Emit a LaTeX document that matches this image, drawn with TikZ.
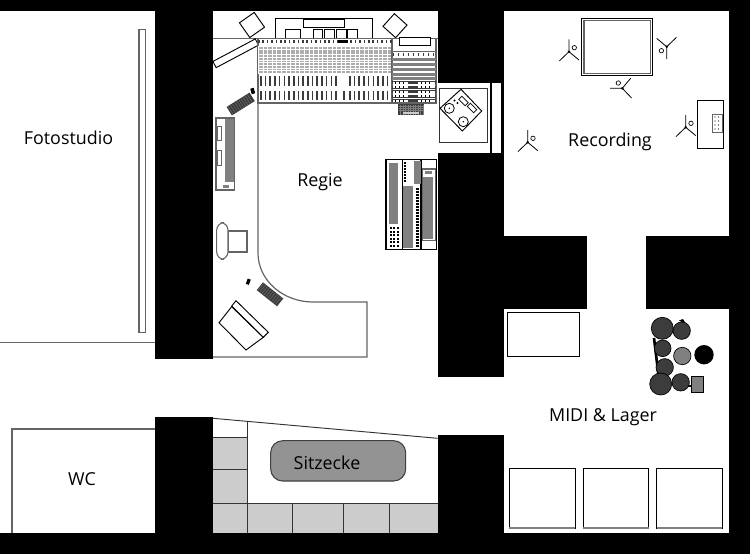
\documentclass[tikz,border=0pt]{standalone}
\usepackage{fontspec}
\setmainfont{Open Sans}
\definecolor{mdark}{RGB}{60,60,60}
\definecolor{mgray}{RGB}{128,128,128}
\definecolor{mtile}{RGB}{204,204,204}
\definecolor{mline}{RGB}{100,100,100}
\tikzset{wall/.style={fill=black},
    furn/.style={draw=black, line width=.7pt, fill=white},
    outline/.style={draw=mline, line width=.9pt},
    label/.style={font=\fontsize{13.4pt}{15pt}\selectfont, text=black, inner sep=0pt},
    drum/.style={draw=black, fill=mdark, line width=.5pt},
}
\newcommand{\micstand}[3]{%
  \begin{scope}[shift={(#1,#2)},rotate=#3]
    \draw[black, line width=.6pt] (0,0)--(0,-12.3) (0,0)--(-9.7,9.3) (0,0)--(10,8.3);
    \fill[black] (0,0) circle (1.4);
    \draw[black, line width=.5pt] (5.3,-4) circle (2.2);
  \end{scope}}
\begin{document}
\begin{tikzpicture}[x=.75pt, y=-.75pt]
\useasboundingbox (0,0) rectangle (750,554);
\fill[white] (0,0) rectangle (750,554);

% walls
\fill[wall] (0,0) rectangle (750,10.7);
\fill[wall] (0,533.3) rectangle (750,554);
\fill[wall] (729,0) rectangle (750,554);
\fill[wall] (155,0) rectangle (213,359);
\fill[wall] (155,417) rectangle (213,533.3);
\fill[wall] (438,0) rectangle (503.5,83.3);
\fill[wall] (438,153) rectangle (503.5,377);
\fill[wall] (438,435) rectangle (503.5,533.3);
\fill[wall] (503.5,236) rectangle (586.5,308.5);
\fill[wall] (646,236) rectangle (729,308.5);
\fill[wall] (490,83.3) rectangle (503.5,153);
\fill[white] (492,83.3) rectangle (501,153);

% Fotostudio and WC
\draw[outline] (0,342.7) -- (155,342.7);
\draw[outline, fill=white] (139,29.3) rectangle (145.3,332.7);
\draw[outline] (12,533.3) -- (12,429) -- (155,429);

% Regie desk outline
\draw[outline] (213,38.3) -- (438,38.3);
\draw[outline] (258,103) -- (258,253) arc (180:90:55 and 49) -- (367,302) -- (367,357) -- (213,357);

% outboard at the top
\draw[furn] (275,18) rectangle (372.7,38.3);
\draw[furn] (303,19) rectangle (344,27);
\foreach \xa/\xb in {285/300.7, 313/322, 324/334, 336/346, 347/357}
  \draw[furn] (\xa,29) rectangle (\xb,38.3);
\draw[furn, shift={(252,25)}, rotate=-55] (-9,-9) rectangle (9,9);
\draw[furn, shift={(395,25.7)}, rotate=-42] (-8.5,-8.5) rectangle (8.5,8.5);
\draw[furn, shift={(235.7,53.3)}, rotate=28] (-24,-3.5) rectangle (24,3.5);

% mixing desk
\draw[mline, line width=1.2pt, fill=white] (258,38.3) rectangle (391.7,102.7);
\foreach \y in {47,49.7,...,72}
  \fill[mtile!85!black] (258.5,\y) rectangle (391,\y+1.8);
\foreach \x in {258,262.6,...,391}
  \fill[white] (\x,46) rectangle (\x+.6,74);
\foreach \x in {258,262.4,...,391}
  \fill[mdark] (\x,39.5) rectangle (\x+1.6,43);
\fill[black] (338,40) rectangle (348,43);
\foreach \x in {260,264.7,...,337}
  {\fill[mdark] (\x,76) rectangle (\x+1.6,86);
   \fill[mdark] (\x,91) rectangle (\x+1.6,100);}
\foreach \x in {349,353.7,...,388}
  {\fill[mdark] (\x,76) rectangle (\x+1.6,86);
   \fill[mdark] (\x,91) rectangle (\x+1.6,100);}
\fill[mdark] (343,91) rectangle (344.6,100);

% side rack of the desk
\draw[mline, line width=1pt] (391.7,38.3) -- (436,38.3) -- (436,103) -- (391.7,103);
\draw[furn] (399,37) rectangle (430,45);
\draw[mline] (391.7,51.6) -- (436,51.6);
\foreach \x in {393,398,...,433}
  \fill[mdark] (\x,53) rectangle (\x+1,55.5);
\foreach \y in {58,63,68,73,77}
  \fill[mgray] (392,\y) rectangle (436,\y+3);
\foreach \y in {81,85.5,90,94.5,99}
  {\fill[mdark] (392,\y) rectangle (436,\y+3.4);
   \fill[white] (393,\y+.6) rectangle (408,\y+2.8);
   \fill[white] (418,\y+.6) rectangle (435,\y+2.8);
   \foreach \x in {395,399,403,421,425,429}
     \fill[black] (\x,\y+.8) rectangle (\x+1,\y+2.6);}
\fill[mdark] (398,104) rectangle (424,115);
\foreach \x in {400,402.5,...,423}
  \fill[mgray] (\x,104.5) rectangle (\x+.4,114.5);
\foreach \y in {106,108,110}
  \fill[mgray] (398.5,\y) rectangle (423.5,\y+.4);
\fill[mtile] (403,112) rectangle (419,113.5);

% keyboards and mice
\fill[mdark, shift={(240.7,104)}, rotate=32] (-13.5,-5) rectangle (13.5,5);
\foreach \x in {-12,-9.5,...,12}
  \fill[mgray, shift={(240.7,104)}, rotate=32] (\x,-4.5) rectangle (\x+.3,4.5);
\fill[black, shift={(252.7,91)}, rotate=15] (-1.8,-2.8) rectangle (1.8,2.8);
\fill[mdark, shift={(270,294.3)}, rotate=-38.6] (-13,-5) rectangle (13,5);
\foreach \x in {-12,-9.5,...,12}
  \fill[mgray, shift={(270,294.3)}, rotate=-38.6] (\x,-4.5) rectangle (\x+.3,4.5);
\fill[black, shift={(248.3,281.7)}, rotate=-20] (-1.6,-2.8) rectangle (1.6,2.8);

% left rack, chair, armchair
\draw[mline, line width=.9pt, fill=white] (216,118) rectangle (234.7,190);
\fill[mgray] (225,119) rectangle (234,181.7);
\draw[mline, fill=white] (217.3,126) rectangle (221.3,140.7);
\draw[mline, fill=white] (217.3,150.7) rectangle (221.3,165);
\fill[mgray] (222.7,185) rectangle (229.3,188);
\draw[mline, line width=1.4pt, fill=white] (228,230.7) rectangle (246.7,251.7);
\draw[mline, line width=.8pt, rounded corners=5.5, fill=white] (216.7,222.7) rectangle (228,259.3);
\draw[furn] (231.7,306.7) -- (263.3,337.3) -- (246,350) -- (219,322.7) -- cycle;
\draw[furn] (236,300.7) -- (268.3,332.3) -- (263.3,337.3) -- (231.7,306) -- cycle;

% rack on the right of Regie
\draw[black, line width=1pt, fill=white] (386,159.3) rectangle (436.7,249.3);
\draw[black, line width=.8pt] (402.7,159.3) -- (402.7,249.3) (421,159.3) -- (421,249.3);
\fill[mgray] (388.7,162.7) rectangle (398.3,224);
\foreach \x in {389.5,393,396.5}
  \foreach \y in {227,230.5,...,246}
    \fill[black] (\x,\y) rectangle (\x+2.2,\y+2.2);
\fill[mgray] (403.3,186) rectangle (413.3,247.7);
\fill[mgray] (414,160.7) rectangle (420.7,184);
\foreach \y in {161.7,164.7,...,182}
  \fill[black] (404,\y) rectangle (406.2,\y+1.8);
\foreach \y in {188.3,191.3,...,246}
  \fill[black] (416,\y) rectangle (418.6,\y+1.8);
\draw[mline, line width=.8pt] (422.3,169) rectangle (435.7,240.7);
\fill[mgray] (425,171) rectangle (431.7,174.3);
\fill[mgray] (423.3,177.3) rectangle (432.7,239.3);

% tape machine
\draw[black!80, line width=.9pt] (439.3,88.3) rectangle (487.7,142.3);
\draw[furn] (461,89.3) -- (481.7,111) -- (462.3,131) -- (440,108.3) -- cycle;
\draw[black, line width=.6pt] (449.3,108.3) circle (5);
\draw[black, line width=.6pt] (463.3,121.7) circle (5);
\fill[black] (449.3,108.3) circle (.8) (463.3,121.7) circle (.8);
\draw[black, line width=.6pt, shift={(463.5,101)}, rotate=-45] (-4.5,-2.2) rectangle (4.5,2.2);
\draw[black, line width=.6pt, shift={(472,108)}, rotate=-45] (-4.5,-2.2) rectangle (4.5,2.2);
\fill[black] (454.5,100.5) circle (1.1) (457.5,103) circle (1.1);

% Recording
\draw[black, line width=.9pt] (581.7,18.3) rectangle (652.7,75.7);
\draw[mline, line width=.9pt] (584,20.5) rectangle (650.5,73.5);
\micstand{569}{51.7}{0}
\micstand{666.7}{46.7}{180}
\micstand{622.3}{88.3}{90}
\micstand{685.7}{127.3}{0}
\micstand{527.7}{142.3}{0}
\draw[black, line width=1.1pt, fill=white] (697.3,100.7) rectangle (723.3,148.3);
\draw[mline, fill=white] (712.7,114) rectangle (722.3,132.3);
\foreach \x in {715,718.5}
  \foreach \y in {117,121,125,129}
    \fill[black] (\x,\y) circle (.7);

% MIDI und Lager
\draw[furn] (507.3,312.3) rectangle (579.3,356);
\foreach \xa/\xb in {509.3/575, 583/648.7, 656.7/722.3}
  {\draw[furn] (\xa,468.3) rectangle (\xb,528);
   \draw[mgray, line width=1pt] (\xa,528) -- (\xb,528);}
\draw[black, line width=2pt] (654,338) -- (658.5,375);
\fill[black] (679,320.5) -- (683,319) -- (686,324) -- cycle;
\draw[black, line width=1.5pt] (686,386) -- (692,386);
\foreach \x/\y/\r in {662.3/328.3/11, 681.7/330.7/8.7, 662.7/348.3/8.3, 664.7/367.3/8.7, 660.7/384/11, 680.7/382.3/8.7}
  \draw[drum] (\x,\y) circle (\r);
\draw[drum, fill=mgray] (682.3,356) circle (8.7);
\fill[black] (704,354.7) circle (9.7);
\draw[drum, fill=mgray] (691,376) rectangle (703.3,392.3);

% Sitzecke
\fill[mtile] (213,437.3) rectangle (247.7,533.3);
\fill[mtile] (247.7,503.3) rectangle (437.7,533.3);
\draw[black!80, line width=.7pt] (213,418.3) -- (437.7,438.3);
\draw[black!80, line width=.7pt] (247.7,421.4) -- (247.7,533.3);
\draw[black!80, line width=.7pt] (213,437.3) -- (247.7,437.3) (213,469.3) -- (247.7,469.3) (213,503.3) -- (437.7,503.3);
\foreach \x in {292.3,343.3,389.3}
  \draw[black!80, line width=.7pt] (\x,503.3) -- (\x,533.3);
\draw[black!75, line width=.8pt, fill=mgray!85!white, rounded corners=9] (270.7,440.7) rectangle (405.7,481);

% labels
\node[label] (fotostudio) at (68.5,137.5) {Fotostudio};
\node[label] (regie) at (320,182) {Regie};
\node[label] (recording) at (610,141.5) {Recording};
\node[label] (midi) at (603,417.5) {MIDI \& Lager};
\node[label] (wc) at (82,479) {WC};
\node[label] (sitzecke) at (327,463) {Sitzecke};
\end{tikzpicture}
\end{document}
